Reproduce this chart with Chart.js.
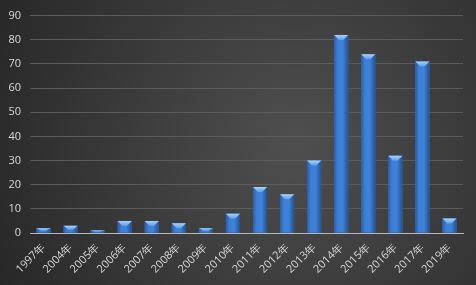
<!DOCTYPE html>
<html><head><meta charset="utf-8">
<script src="https://cdn.jsdelivr.net/npm/chart.js@4/dist/chart.umd.min.js"></script>
<style>html,body{margin:0;padding:0;background:#333;}#wrap{width:476px;height:285px;}</style>
</head><body><div id="wrap"><canvas id="c"></canvas></div>
<script>
const categories = ["1997年","2004年","2005年","2006年","2007年","2008年","2009年","2010年","2011年","2012年","2013年","2014年","2015年","2016年","2017年","2019年"];
const counts = [2,3,1,5,5,4,2,8,19,16,30,82,74,32,71,6];
const yTicksMax = 90;
const yStep = 10;

const bgPlugin = {
  id: 'bg',
  beforeDraw(chart) {
    const {ctx, width, height} = chart;
    ctx.save();
    const g = ctx.createRadialGradient(width*0.62, height*0.5, 10, width*0.62, height*0.5, width*0.75);
    g.addColorStop(0, '#4e4e4e');
    g.addColorStop(1, '#242424');
    ctx.fillStyle = g;
    ctx.fillRect(0, 0, width, height);
    ctx.restore();
  }
};
const barStyle = {
  id: 'barStyle',
  afterDatasetsDraw(chart) {
    const ctx = chart.ctx;
    const meta = chart.getDatasetMeta(0);
    ctx.save();
    meta.data.forEach(el => {
      const {x, y, base, width} = el.getProps(['x','y','base','width'], true);
      const l = x - width/2, r = x + width/2;
      const g = ctx.createLinearGradient(l, 0, r, 0);
      g.addColorStop(0, '#2a5da6');
      g.addColorStop(0.25, '#3d7fd6');
      g.addColorStop(0.6, '#3f82da');
      g.addColorStop(1, '#24528f');
      ctx.fillStyle = g;
      ctx.fillRect(l, y, width, base - y);
      const capH = Math.min(5, (base - y) * 0.6);
      const cg = ctx.createLinearGradient(0, y, 0, y + capH);
      cg.addColorStop(0, '#a9d2f7');
      cg.addColorStop(1, '#5d9ee6');
      ctx.fillStyle = cg;
      ctx.beginPath();
      ctx.moveTo(l, y);
      ctx.lineTo(r, y);
      ctx.lineTo(x + width*0.15, y + capH);
      ctx.lineTo(x - width*0.15, y + capH);
      ctx.closePath();
      ctx.fill();
    });
    ctx.restore();
  }
};

new Chart(document.getElementById('c'), {
  type: 'bar',
  data: { labels: categories, datasets: [{ data: counts, backgroundColor: '#3b7dd8', categoryPercentage: 1, barPercentage: 0.52 }] },
  options: {
    responsive: true, maintainAspectRatio: false, animation: false,
    layout: { padding: { top: 5, right: 13, left: 0, bottom: 0 } },
    plugins: { legend: { display: false }, tooltip: { enabled: false } },
    scales: {
      x: {
        grid: { display: false },
        border: { color: '#b8b8b8', width: 1 },
        ticks: { color: '#d9d9d9', font: { family: 'Open Sans', size: 11 }, maxRotation: 45, minRotation: 45, padding: 0, autoSkip: false },
        afterFit(s) { s.height = 52; }
      },
      y: {
        min: 0, max: yTicksMax,
        ticks: { stepSize: yStep, color: '#d9d9d9', font: { family: 'Open Sans', size: 11 }, padding: 9 },
        grid: { color: '#5c5c5c', drawTicks: false },
        border: { display: false },
        afterFit(s) { s.width = 30; }
      }
    }
  },
  plugins: [bgPlugin, barStyle]
});
</script></body></html>
